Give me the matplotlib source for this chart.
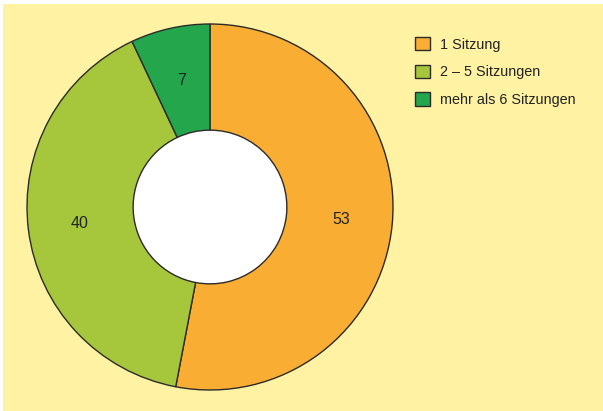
import numpy as np
import matplotlib.pyplot as plt
from matplotlib.patches import Rectangle, Circle

plt.rcParams['font.family'] = ['Liberation Sans', 'DejaVu Sans']

labels = ['1 Sitzung', '2 – 5 Sitzungen', 'mehr als 6 Sitzungen']
values = [53, 40, 7]
colors = ['#F9AE33', '#A6C63C', '#23A64C']
bg = '#FFF3A3'

fig = plt.figure(figsize=(6.03, 4.11), dpi=100)
fig.patches.append(Rectangle((3 / 603, 0), 600 / 603, 407 / 411,
                             transform=fig.transFigure, facecolor=bg,
                             edgecolor='none', zorder=-10))

# square axes around the donut (center ~ (210, 207) px, radius ~183 px)
r_px = 183
ax = fig.add_axes([(210 - r_px) / 603, (411 - 207 - r_px) / 411,
                   2 * r_px / 603, 2 * r_px / 411])
ax.set_facecolor('none')

ring = 0.58
wedges, _ = ax.pie(values, colors=colors, startangle=90, counterclock=False,
                   radius=1,
                   wedgeprops=dict(width=ring, edgecolor='#2b2b2b', linewidth=1.0))
# white hole
ax.add_patch(Circle((0, 0), 1 - ring, facecolor='white', edgecolor='none', zorder=0))

# value labels in the middle of each ring segment
total = sum(values)
angle = 90
for v in values:
    mid = np.deg2rad(angle - 360 * v / total / 2)
    angle -= 360 * v / total
    ax.text(0.72 * np.cos(mid), 0.71 * np.sin(mid), str(v),
            ha='center', va='center', fontsize=11.5, color='#222222')

ax.set_xlim(-1, 1)
ax.set_ylim(-1, 1)
ax.set_aspect('equal')
ax.axis('off')

leg = fig.legend(wedges, labels, loc='upper left',
                 bbox_to_anchor=(402 / 603, 1 - 24 / 411),
                 frameon=False, fontsize=10.4, handlelength=1.05, handleheight=1.05,
                 handletextpad=0.65, labelspacing=0.9)
for t in leg.get_texts():
    t.set_color('#222222')

fig.savefig('out.png', dpi=100)
